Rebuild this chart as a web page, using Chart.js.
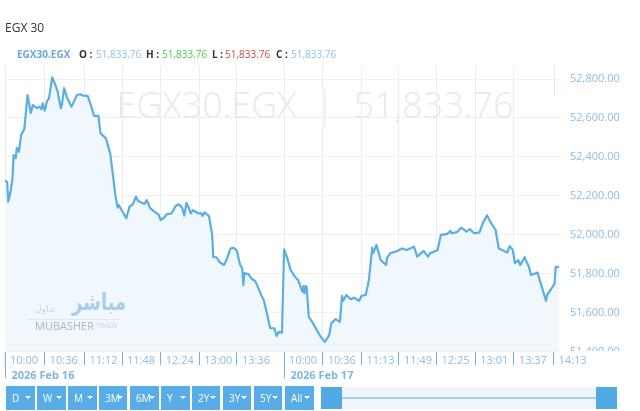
<!DOCTYPE html>
<html><head><meta charset="utf-8">
<script src="https://cdn.jsdelivr.net/npm/chart.js@4"></script>
<style>
html,body{margin:0;padding:0;background:#fff;width:640px;height:411px;overflow:hidden;font-family:"Open Sans",sans-serif}
#wrap{position:absolute;left:0;top:0;width:640px;height:411px}
canvas{position:absolute;left:0;top:0}
.t{position:absolute;white-space:nowrap;line-height:1}
.btn{position:absolute;top:386px;height:24px;background:#58ade6;color:#fff;font-size:10px;line-height:24px;box-sizing:border-box;padding-left:6px}
.btn:after{content:"";position:absolute;right:4px;top:10px;border:3px solid transparent;border-top:3px solid #fff}
</style></head><body>
<div id="wrap"><canvas id="c" width="640" height="411"></canvas></div>
<script>
const chartTitle = "EGX 30";
const symbol = "EGX30.EGX";
const lastValue = "51,833.76";
const minutes = [0,2,3,5,7,8,10,11,13,15,18,21,23,24,26,30,32,34,35,37,39,41,44,47,49,52,53,55,58,62,67,70,73,77,79,83,87,89,94,98,100,103,105,106,113,116,119,122,124,130,132,135,140,143,145,148,151,155,159,162,165,167,169,171,173,175,180,183,184,186,190,193,194,197,200,204,207,210,213,216,219,221,222,223,227,230,233,236,239,241,244,247,251,253,255,258,260,263,266,270,273,277,278,279,280,281,283,287,294,298,302,304,308,312,314,315,318,322,325,330,332,336,339,342,343,346,350,355,356,359,365,370,374,381,384,390,394,396,400,403,406,412,415,416,421,425,430,433,437,442,445,449,452,457,460,468,470,473,475,478,480,484,488,490,496,500,504,505,510,512,513,516];
const closes = [52278,52271,52170,52215,52291,52409,52394,52446,52426,52512,52543,52718,52658,52625,52666,52650,52658,52645,52675,52637,52683,52702,52809,52769,52735,52650,52666,52753,52701,52658,52718,52722,52714,52713,52683,52611,52611,52521,52495,52418,52332,52195,52140,52152,52084,52144,52156,52195,52173,52158,52178,52138,52115,52104,52075,52087,52106,52109,52147,52156,52138,52098,52164,52140,52109,52126,52109,52109,52096,52115,52096,51999,51884,51884,51858,51844,51879,51929,51933,51917,51844,51827,51741,51802,51796,51772,51762,51725,51685,51664,51596,51519,51519,51479,51501,51496,51924,51879,51819,51784,51767,51707,51736,51699,51736,51732,51578,51544,51475,51449,51484,51544,51566,51552,51685,51660,51690,51668,51676,51660,51685,51690,51767,51933,51905,51947,51870,51844,51882,51905,51915,51929,51921,51938,51887,51917,51887,51905,51913,51921,51999,52004,52020,52007,52013,52036,52015,52029,52007,52012,52058,52100,52067,52024,51929,51908,51941,51921,51853,51870,51844,51884,51835,51793,51805,51732,51660,51690,51732,51750,51834,51834];
const xTickValues = [0,37,74,109,145,181,216,260,296,332,367,402,438,474,511];
const xTickLabels = ["10:00","10:36","11:12","11:48","12:24","13:00","13:36","10:00","10:36","11:13","11:49","12:25","13:01","13:37","14:13"];
const dayTicks = [0,260];
const dayLabels = ["2026 Feb 16","2026 Feb 17"];
const yTickValues = [51400,51600,51800,52000,52200,52400,52600,52800];
const rangeButtons = ["D","W","M","3M","6M","Y","2Y","3Y","5Y","All"];
const FONT = '"Open Sans", sans-serif';

const extras = {
  id:'extras',
  beforeDatasetsDraw(ch){
    const g=ch.ctx;
    g.save();
    g.fillStyle='#e9e9e9'; g.textBaseline='alphabetic'; g.textAlign='center';
    g.font='300 36px '+FONT;
    g.fillText(symbol+'  |  '+lastValue,315,118);
    g.restore();
  },
  afterDraw(ch){
    const g=ch.ctx, x=ch.scales.x, a=ch.chartArea;
    g.save();
    g.fillStyle='#fff'; g.fillRect(564,a.bottom,76,5);
    g.strokeStyle='#e6ebef'; g.lineWidth=1;
    const p=Math.round(x.getPixelForValue(xTickValues[xTickValues.length-1]))+.5;
    g.beginPath(); g.moveTo(p,a.top); g.lineTo(p,97); g.stroke();
    g.font='bold 11px '+FONT; g.textAlign='left'; g.textBaseline='middle';
    dayTicks.forEach((d,i)=>{
      const px=Math.round(x.getPixelForValue(d))+.5;
      g.strokeStyle='#6db2e3'; g.beginPath(); g.moveTo(px,a.bottom+1); g.lineTo(px,378); g.stroke();
      g.fillStyle='#7db6e2'; g.fillText(dayLabels[i],px+6,375.5);
    });
    g.restore();
  }
};

new Chart(document.getElementById('c'),{
  type:'line',
  data:{datasets:[{
    data:minutes.map((m,i)=>({x:m,y:closes[i]})),
    borderColor:'#5aaee0',borderWidth:2.2,backgroundColor:'#f0f8fd',fill:'start',
    pointRadius:0,tension:0,borderJoinStyle:'round'
  }]},
  plugins:[extras],
  options:{
    responsive:false,animation:false,events:[],
    layout:{padding:{left:5,top:66,right:0,bottom:40}},
    plugins:{legend:{display:false},tooltip:{enabled:false},title:{display:false}},
    scales:{
      x:{type:'linear',min:0,max:517,
        afterBuildTicks(s){s.ticks=xTickValues.map(v=>({value:v}));},
        afterFit(s){s.height=20;},
        border:{display:false},
        grid:{color:(c)=>c.index===xTickValues.length-1?'rgba(0,0,0,0)':'#e6eff5',tickColor:'#6db2e3',tickLength:14,drawTicks:true},
        ticks:{autoSkip:false,maxRotation:0,minRotation:0,align:'start',labelOffset:5,padding:-11,color:'#8dbde2',font:{family:FONT,size:11},
          callback(v,i){return xTickLabels[i];}}
      },
      y:{position:'right',min:51402,max:52867,
        afterBuildTicks(s){s.ticks=yTickValues.map(v=>({value:v}));},
        afterFit(s){s.width=80;},
        border:{display:false},
        grid:{color:'#eef1f3',drawTicks:false},
        ticks:{padding:10,color:'#8dbde2',font:{family:FONT,size:11},
          callback(v){return v.toLocaleString('en-US',{minimumFractionDigits:2,maximumFractionDigits:2});}}
      }
    }
  }
});

const wrap=document.getElementById('wrap');
function txt(s,x,y,size,color,extra){
  const d=document.createElement('div');d.className='t';d.textContent=s;
  d.style.cssText=`left:${x}px;top:${y}px;font-size:${size}px;color:${color};`+(extra||'');
  wrap.appendChild(d);return d;
}
txt(chartTitle,5,22,12,'#333');
txt(symbol,17,49,10,'#6aa9dc','font-weight:700');
[["O : ",79,96,'#8fc0e8'],["H : ",146,162,'#4cc84c'],["L : ",212,225,'#cf4a4a'],["C : ",276,291,'#8fc0e8']].forEach(r=>{
  txt(r[0],r[1],49,10,'#333','font-weight:700');
  txt(lastValue,r[2],49,10,r[3]);
});
txt("مباشر",72,293,18,'#a9cdec','font-family:"DejaVu Sans";font-weight:700;transform:scaleY(1.3)');
txt("تداول",35,305,9,'#b9d5ee','font-family:"DejaVu Sans"');
const rule=document.createElement('div');rule.style.cssText='position:absolute;left:27px;top:319px;width:93px;height:1px;background:#dfe6ec';wrap.appendChild(rule);
txt("MUBASHER",35,320,11,'#9db8d8');
txt("TRADE",96,322,7,'#c5d8e8');
const bx=[6,37,68,99,130,161,192,223,254,285], bw=[29,29,29,28,29,29,28,28,28,29];
rangeButtons.forEach((b,i)=>{
  const d=document.createElement('div');d.className='btn';d.textContent=b;
  d.style.left=bx[i]+'px';d.style.width=bw[i]+'px';wrap.appendChild(d);
});
function box(l,t,w,h,c){const d=document.createElement('div');d.style.cssText=`position:absolute;left:${l}px;top:${t}px;width:${w}px;height:${h}px;background:${c}`;wrap.appendChild(d);}
box(320,387,297,22,'#eef6fc');
box(330,397,280,2,'#a3d2f0');
box(321,387,21,22,'#52aae5');
box(596,387,21,22,'#52aae5');
</script>
</body></html>
